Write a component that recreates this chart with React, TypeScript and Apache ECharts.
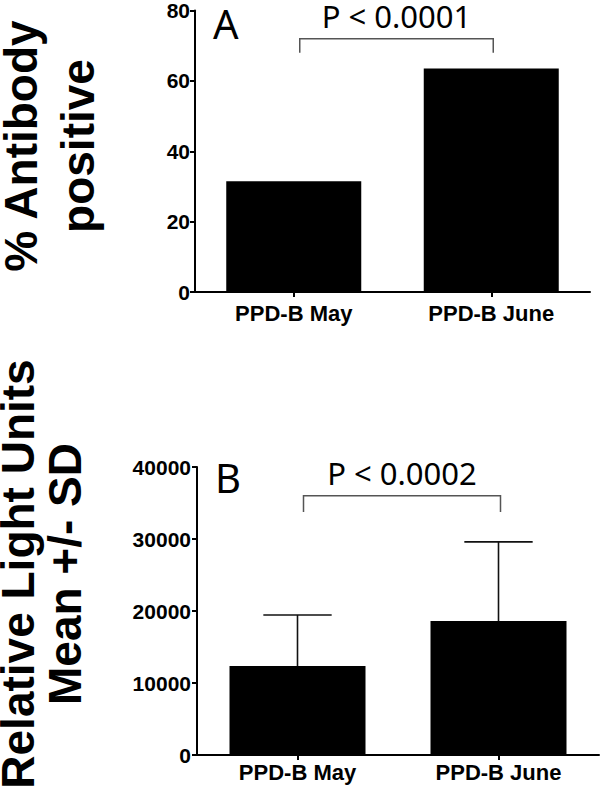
import React, { useEffect, useRef } from "react";
import * as echarts from "echarts";

// ---- data ----
const categories = ["PPD-B May", "PPD-B June"];
const pctPositive = [31.5, 63.5];
const pctAxis = [0, 80, 20]; // min, max, interval
const rluMean = [12350, 18600];
const rluSD = [7100, 11000];
const rluAxis = [0, 40000, 10000];
const bracketA = [0, 1, 72, 68]; // from cat, to cat, top value, foot value
const bracketB = [0, 1, 36000, 33750];
const pLabels = ["P < 0.0001", "P < 0.0002"];
const panelLetters = ["A", "B"];
const titleA = ["% Antibody", "positive"];
const titleB = ["Relative Light Units", "Mean +/- SD"];

const LABEL_FAMILY = "'Liberation Sans', Arial, Helvetica, sans-serif";
const TITLE_FONT = "bold 46px 'Liberation Sans', Arial, sans-serif";
const NOTE_FAMILY = "'Noto Sans', 'Open Sans', sans-serif";

const renderErr = (_params: any, api: any) => {
  const i = api.value(0);
  const m = api.value(1);
  const sd = api.value(2);
  const base = api.coord([i, m]);
  const top = api.coord([i, m + sd]);
  const half = api.size([1, 0])[0] * 0.17;
  return {
    type: "group",
    children: [
      { type: "line", shape: { x1: base[0], y1: base[1], x2: top[0], y2: top[1] }, style: { stroke: "#111", lineWidth: 1.6 } },
      { type: "line", shape: { x1: top[0] - half, y1: top[1], x2: top[0] + half, y2: top[1] }, style: { stroke: "#111", lineWidth: 1.6 } },
    ],
  };
};

const makeBracket = (label: string) => (_params: any, api: any) => {
  const a = api.value(0);
  const b = api.value(1);
  const top = api.value(2);
  const foot = api.value(3);
  const a0 = api.coord([a, foot]);
  const a1 = api.coord([a, top]);
  const b1 = api.coord([b, top]);
  const b0 = api.coord([b, foot]);
  return {
    type: "group",
    children: [
      {
        type: "polyline",
        shape: { points: [[a0[0] + 6, a0[1]], [a1[0] + 6, a1[1]], [b1[0] + 2, b1[1]], [b0[0] + 2, b0[1]]] },
        style: { stroke: "#555", lineWidth: 1.5, fill: "none" },
      },
      {
        type: "text",
        x: (a1[0] + b1[0]) / 2 + 4,
        y: a1[1] - 23,
        style: { text: label, fontSize: 31, fontFamily: NOTE_FAMILY, fill: "#000", align: "center", verticalAlign: "middle" },
      },
    ],
  };
};

const xLabelFont = { fontFamily: LABEL_FAMILY, fontWeight: "bold" as const, fontSize: 22, color: "#000" };
const yLabelFont = { fontFamily: LABEL_FAMILY, fontWeight: "bold" as const, fontSize: 21, color: "#000" };
const axisLine = { show: true, lineStyle: { color: "#000", width: 2 } };
const tickLine = { color: "#000", width: 2 };
const plain = (v: number) => String(v);

export default function App() {
  const ref = useRef<HTMLDivElement>(null);
  useEffect(() => {
    if (!ref.current) return;
    const chart = echarts.init(ref.current, undefined, { renderer: "svg" });
    chart.setOption({
      animation: false,
      backgroundColor: "#fff",
      grid: [
        { left: 195, top: 10, width: 395, height: 282 },
        { left: 197, top: 467, width: 402, height: 288 },
      ],
      xAxis: [
        {
          type: "category", gridIndex: 0, data: categories, axisLine,
          axisTick: { show: true, alignWithLabel: true, length: 5, lineStyle: tickLine },
          axisLabel: { ...xLabelFont, margin: 10 },
        },
        {
          type: "category", gridIndex: 1, data: categories, axisLine,
          axisTick: { show: true, alignWithLabel: true, length: 5, lineStyle: tickLine },
          axisLabel: { ...xLabelFont, margin: 6 },
        },
      ],
      yAxis: [
        {
          type: "value", gridIndex: 0, min: pctAxis[0], max: pctAxis[1], interval: pctAxis[2], axisLine,
          axisTick: { show: true, length: 5, lineStyle: tickLine },
          splitLine: { show: false },
          axisLabel: { ...yLabelFont, margin: 5, formatter: plain },
        },
        {
          type: "value", gridIndex: 1, min: rluAxis[0], max: rluAxis[1], interval: rluAxis[2], axisLine,
          axisTick: { show: true, length: 5, lineStyle: tickLine },
          splitLine: { show: false },
          axisLabel: { ...yLabelFont, margin: 6, formatter: plain },
        },
      ],
      series: [
        { type: "bar", xAxisIndex: 0, yAxisIndex: 0, data: pctPositive, barWidth: 135, itemStyle: { color: "#000" } },
        { type: "bar", xAxisIndex: 1, yAxisIndex: 1, data: rluMean, barWidth: 136, itemStyle: { color: "#000" } },
        {
          type: "custom", xAxisIndex: 1, yAxisIndex: 1, z: 5,
          data: rluMean.map((m, i) => [i, m, rluSD[i]]),
          renderItem: renderErr,
        },
        { type: "custom", xAxisIndex: 0, yAxisIndex: 0, data: [bracketA], renderItem: makeBracket(pLabels[0]) },
        { type: "custom", xAxisIndex: 1, yAxisIndex: 1, data: [bracketB], renderItem: makeBracket(pLabels[1]) },
      ],
      graphic: [
        { type: "text", x: 21, y: 146, rotation: Math.PI / 2, style: { text: titleA[0], font: TITLE_FONT, fill: "#000", align: "center", verticalAlign: "middle" } },
        { type: "text", x: 78, y: 146, rotation: Math.PI / 2, style: { text: titleA[1], font: TITLE_FONT, fill: "#000", align: "center", verticalAlign: "middle" } },
        { type: "text", x: 18, y: 574, rotation: Math.PI / 2, style: { text: titleB[0], font: TITLE_FONT, fill: "#000", align: "center", verticalAlign: "middle" } },
        { type: "text", x: 65, y: 574, rotation: Math.PI / 2, style: { text: titleB[1], font: TITLE_FONT, fill: "#000", align: "center", verticalAlign: "middle" } },
        { type: "text", x: 213, y: 23, style: { text: panelLetters[0], fontSize: 40, fontFamily: NOTE_FAMILY, fill: "#000", align: "left", verticalAlign: "middle" } },
        { type: "text", x: 215, y: 477, style: { text: panelLetters[1], fontSize: 40, fontFamily: NOTE_FAMILY, fill: "#000", align: "left", verticalAlign: "middle" } },
      ],
    });
    return () => chart.dispose();
  }, []);
  return <div ref={ref} style={{ position: "absolute", left: 0, top: 0, width: 600, height: 795 }} />;
}
